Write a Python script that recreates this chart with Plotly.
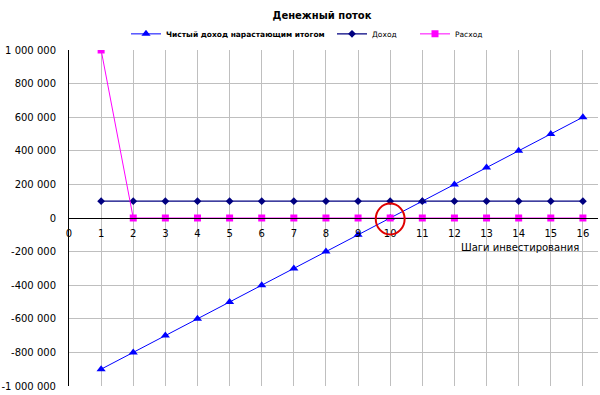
import plotly.graph_objects as go

steps = list(range(1, 17))
net_cum = [-900000, -800000, -700000, -600000, -500000, -400000, -300000, -200000,
           -100000, 0, 100000, 200000, 300000, 400000, 500000, 600000]
income = [100000] * 16
expense = [1000000] + [0] * 15

y_tickvals = [1000000, 800000, 600000, 400000, 200000, 0, -200000, -400000, -600000, -800000, -1000000]
y_ticktext = ["1 000 000", "800 000", "600 000", "400 000", "200 000", "0",
              "-200 000", "-400 000", "-600 000", "-800 000", "-1 000 000"]
x_tickvals = list(range(0, 17))

FONT = "DejaVu Sans"

fig = go.Figure()
fig.add_trace(go.Scatter(
    x=steps, y=net_cum, mode="lines+markers",
    name="<b>Чистый доход нарастающим итогом</b>",
    line=dict(color="#0000FF", width=1),
    marker=dict(symbol="triangle-up", size=8, color="#0000FF"),
    legend="legend"))
fig.add_trace(go.Scatter(
    x=steps, y=income, mode="lines+markers", name="Доход",
    line=dict(color="#000080", width=1.3),
    marker=dict(symbol="diamond", size=6, color="#000080"),
    legend="legend2"))
fig.add_trace(go.Scatter(
    x=steps, y=expense, mode="lines+markers", name="Расход",
    line=dict(color="#FF00FF", width=1),
    marker=dict(symbol="square", size=7, color="#FF00FF"),
    legend="legend3"))

fig.add_shape(type="circle", xref="x", yref="y",
              x0=9.55, x1=10.45, y0=-98000, y1=86000,
              line=dict(color="#E00000", width=2))

leg_common = dict(orientation="h", yanchor="middle", y=1.048, xanchor="left",
                  font=dict(family=FONT, size=7.5, color="#000000"),
                  bgcolor="rgba(0,0,0,0)", itemwidth=30, tracegroupgap=0)
fig.update_layout(
    width=600, height=395,
    margin=dict(l=69, r=2, t=50, b=9),
    paper_bgcolor="white", plot_bgcolor="white",
    font=dict(family=FONT, size=10, color="#000000"),
    title=dict(text="<b>Денежный поток</b>", x=322/600, xanchor="center",
               y=1 - 15/395, yanchor="middle",
               font=dict(family=FONT, size=10, color="#000000")),
    legend=dict(x=(126 - 69) / 529, **leg_common),
    legend2=dict(x=(332 - 69) / 529, **leg_common),
    legend3=dict(x=(415 - 69) / 529, **leg_common),
    showlegend=True,
)
fig.update_xaxes(range=[0, 16.47], tickvals=x_tickvals,
                 showgrid=True, gridcolor="#BFBFBF", gridwidth=1,
                 zeroline=False, showline=True, linecolor="#000000", linewidth=1,
                 anchor="free", position=0.5,
                 ticks="outside", ticklen=6, tickcolor="rgba(0,0,0,0)",
                 tickfont=dict(family=FONT, size=10, color="#000000"))
fig.update_yaxes(range=[-1000000, 1000000], tickvals=y_tickvals, ticktext=y_ticktext,
                 showgrid=True, gridcolor="#BFBFBF", gridwidth=1,
                 zeroline=False, showline=True, linecolor="#000000", linewidth=1,
                 ticks="", ticklabelstandoff=10,
                 tickfont=dict(family=FONT, size=10, color="#000000"))
fig.add_annotation(text="Шаги инвестирования", xref="paper", yref="paper",
                   x=(581 - 69) / 529, xanchor="right",
                   y=(386 - 247) / 336, yanchor="middle", showarrow=False,
                   font=dict(family=FONT, size=10, color="#000000"))

fig.write_html("out.html")
